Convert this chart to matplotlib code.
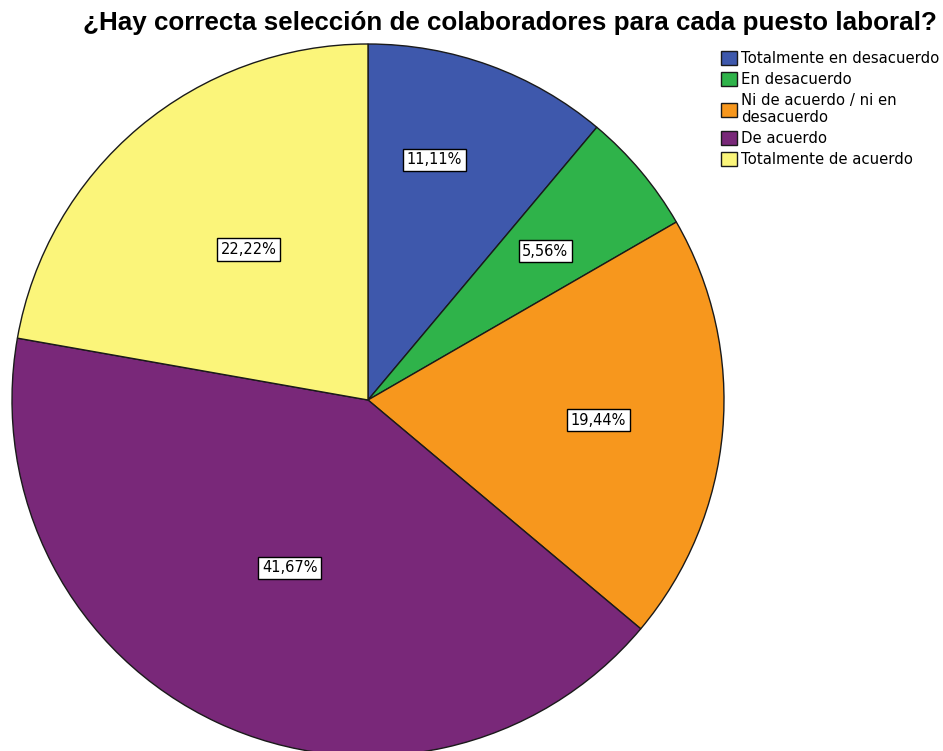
import matplotlib.pyplot as plt
import numpy as np

# data
categories = ["Totalmente en desacuerdo", "En desacuerdo",
              "Ni de acuerdo / ni en\ndesacuerdo", "De acuerdo",
              "Totalmente de acuerdo"]
percentages = [11.11, 5.56, 19.44, 41.67, 22.22]
pct_labels = ["11,11%", "5,56%", "19,44%", "41,67%", "22,22%"]
colors = ["#3E58AC", "#2FB34A", "#F7971D", "#792879", "#FBF57A"]
label_radius = [0.70, 0.65, 0.65, 0.52, 0.54]
label_angle_shift = [4.6, 0, 0, 0, -1.5]

plt.rcParams['font.family'] = ['Liberation Sans', 'DejaVu Sans']

W, H = 943, 751
cx, cy, R = 368, 400, 356
fig = plt.figure(figsize=(W / 100, H / 100), dpi=100)
ax = fig.add_axes([0, 0, 1, 1])

wedges, _ = ax.pie(percentages, colors=colors, startangle=90, counterclock=False,
                   radius=1, wedgeprops=dict(edgecolor="#1a1a1a", linewidth=1))

# place labels like SPSS does (different distance per slice)
for w, lab, r, s in zip(wedges, pct_labels, label_radius, label_angle_shift):
    ang = np.deg2rad((w.theta1 + w.theta2) / 2 + s)
    ax.text(r * np.cos(ang), r * np.sin(ang), lab, ha="center", va="center",
            fontsize=10.5, family="DejaVu Sans",
            bbox=dict(boxstyle="square,pad=0.25", fc="white", ec="black", lw=1))

ax.set_xlim(-cx / R, (W - cx) / R)
ax.set_ylim(-(H - cy) / R, cy / R)
ax.set_aspect("auto")
ax.axis("off")

fig.text(510 / W, 1 - 23 / H, "¿Hay correcta selección de colaboradores para cada puesto laboral?",
         ha="center", va="center", fontsize=18.7, fontweight="bold")

fig.legend(wedges, categories, loc="upper left",
           bbox_to_anchor=(721 / W, 1 - 51 / H), frameon=False,
           prop=dict(family="DejaVu Sans", size=10.7),
           handlelength=1.05, handleheight=1.1, handletextpad=0.3,
           labelspacing=0.38, borderaxespad=0, borderpad=0)

fig.savefig("out.png", dpi=100)
